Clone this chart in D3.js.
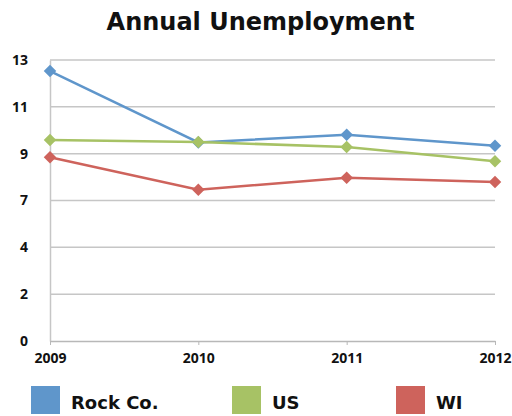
<!DOCTYPE html>
<html><head><meta charset="utf-8">
<script src="https://cdn.jsdelivr.net/npm/d3@7"></script>
<style>body{margin:0;background:#fff}svg{display:block}</style>
</head><body>
<svg id="c" width="512" height="416"></svg>
<script>
const years = ["2009","2010","2011","2012"];
const rockCo = [12.68, 9.33, 9.69, 9.17];
const us = [9.44, 9.35, 9.11, 8.44];
const wi = [8.63, 7.11, 7.67, 7.47];
const yTicks = [0, 2.2, 4.4, 6.6, 8.8, 11, 13.2];
const seriesNames = ["Rock Co.", "US", "WI"];
const seriesColors = ["#5F96CB", "#A7C265", "#CE635C"];
const series = [rockCo, us, wi];

const svg = d3.select("#c");
const font = "'DejaVu Sans', sans-serif";
const tickFont = "'Open Sans', 'DejaVu Sans', sans-serif";
const x = d3.scalePoint().domain(years).range([50, 495]);
const y = d3.scaleLinear().domain([0, 13.2]).range([341, 60]);

svg.append("text").attr("x", 260.5).attr("y", 29.5).attr("text-anchor", "middle")
  .attr("font-family", font).attr("font-weight", 700).attr("font-size", 24)
  .attr("fill", "#111").text("Annual Unemployment");

// gridlines
svg.append("g").selectAll("line").data(yTicks.slice(1)).join("line")
  .attr("x1", 50).attr("x2", 495).attr("y1", d => y(d)).attr("y2", d => y(d))
  .attr("stroke", "#c6c6c6").attr("stroke-width", 1.5);

// y axis
const yAxis = svg.append("g").attr("transform", "translate(50,0)")
  .call(d3.axisLeft(y).tickValues(yTicks).tickFormat(d3.format(".0f")).tickSize(0).tickPadding(22));
yAxis.select(".domain").attr("stroke", "#c6c6c6").attr("stroke-width", 1.5);
yAxis.selectAll("text").attr("font-family", tickFont).attr("font-weight", 700).attr("font-size", 14).attr("fill", "#111");

// x axis
const xAxis = svg.append("g").attr("transform", "translate(0,341)")
  .call(d3.axisBottom(x).tickSize(4).tickSizeOuter(0).tickPadding(8));
xAxis.select(".domain").attr("stroke", "#b8b8b8").attr("stroke-width", 1.5);
xAxis.selectAll(".tick line").attr("stroke", "#b8b8b8");
xAxis.selectAll("text").attr("font-family", tickFont).attr("font-weight", 700).attr("font-size", 14).attr("fill", "#111");

const line = d3.line().x((d, i) => x(years[i])).y(d => y(d));
series.forEach((s, k) => {
  svg.append("path").datum(s).attr("d", line).attr("fill", "none")
    .attr("stroke", seriesColors[k]).attr("stroke-width", 2.5);
  svg.append("g").selectAll("path").data(s).join("path")
    .attr("d", d3.symbol(d3.symbolDiamond2, 100))
    .attr("transform", (d, i) => `translate(${x(years[i])},${y(d)})`)
    .attr("fill", seriesColors[k]);
});

// legend
const legX = [31, 232, 396];
const leg = svg.append("g").selectAll("g").data(seriesNames).join("g")
  .attr("transform", (d, i) => `translate(${legX[i]},386)`);
leg.append("rect").attr("width", 29).attr("height", 28).attr("fill", (d, i) => seriesColors[i]);
leg.append("text").attr("x", 40).attr("y", 23).attr("font-family", font)
  .attr("font-weight", 700).attr("font-size", 18).attr("fill", "#111").text(d => d);
</script>
</body></html>
